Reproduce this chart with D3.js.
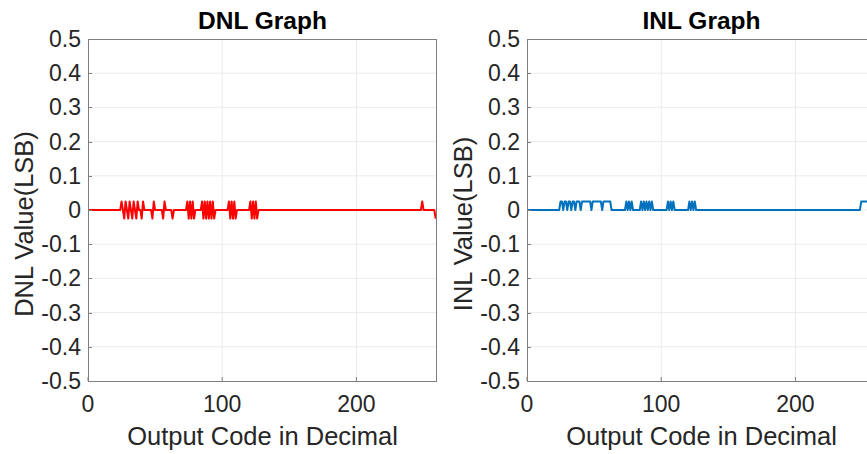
<!DOCTYPE html>
<html>
<head>
<meta charset="utf-8">
<script src="https://cdn.jsdelivr.net/npm/d3@7"></script>
<style>
  body { margin: 0; background: #fff; }
  svg { display: block; font-family: "Liberation Sans", Arial, sans-serif; }
</style>
</head>
<body>
<svg id="chart" width="867" height="454"></svg>
<script>
// codes 0..259, values in LSB
var lastCode = 259;

// DNL: codes with non-zero DNL, and their values
var dnlCodes  = [25, 27, 28, 30, 31, 33, 34, 36, 37, 40, 41, 48, 49, 56, 57, 63,
                 74, 75, 76, 77, 78, 79,
                 85, 86, 87, 88, 89, 90, 91, 92, 93, 94,
                 105, 106, 107, 108, 109, 110,
                 121, 122, 123, 124, 125, 126,
                 249, 259];
var dnlValues = [0.025, -0.025, 0.025, -0.025, 0.025, -0.025, 0.025, -0.025, 0.025, -0.025, 0.025, -0.025, 0.025, -0.025, 0.025, -0.025,
                 0.025, -0.025, 0.025, -0.025, 0.025, -0.025,
                 0.025, -0.025, 0.025, -0.025, 0.025, -0.025, 0.025, -0.025, 0.025, -0.025,
                 0.025, -0.025, 0.025, -0.025, 0.025, -0.025,
                 0.025, -0.025, 0.025, -0.025, 0.025, -0.025,
                 0.025, -0.025];

// INL: code ranges where INL sits at +0.025 LSB (zero elsewhere)
var inlHighStart = [25, 28, 31, 34, 37, 41, 49, 57, 74, 76, 78, 85, 87, 89, 91, 93, 105, 107, 109, 121, 123, 125, 249];
var inlHighEnd   = [26, 29, 32, 35, 39, 47, 55, 62, 74, 76, 78, 85, 87, 89, 91, 93, 105, 107, 109, 121, 123, 125, 258];
var inlLevel = 0.025;

var xTicks = [0, 100, 200];
var yTicks = [-0.5, -0.4, -0.3, -0.2, -0.1, 0, 0.1, 0.2, 0.3, 0.4, 0.5];

// build full series
var dnl = d3.range(0, lastCode + 1).map(function(c){
    var i = dnlCodes.indexOf(c);
    return {code: c, v: i >= 0 ? dnlValues[i] : 0};
});
var inl = d3.range(0, lastCode + 1).map(function(c){
    var hit = inlHighStart.some(function(s, i){ return c >= s && c <= inlHighEnd[i]; });
    return {code: c, v: hit ? inlLevel : 0};
});

var svg = d3.select("#chart");
svg.append("rect").attr("width", 867).attr("height", 454).attr("fill", "#fff");

function drawPanel(left, data, color, title, ylabel){
    var top = 39, bottom = 381, width = 349;
    var x = d3.scaleLinear().domain([0, 260]).range([left, left + width]);
    var y = d3.scaleLinear().domain([-0.5, 0.5]).range([bottom, top]);
    var g = svg.append("g");

    // grid
    g.selectAll(".gx").data(xTicks.slice(1)).enter().append("line")
        .attr("x1", d => x(d)).attr("x2", d => x(d))
        .attr("y1", top).attr("y2", bottom)
        .attr("stroke", "#ebebeb").attr("stroke-width", 1);
    g.selectAll(".gy").data(yTicks.slice(1, -1)).enter().append("line")
        .attr("x1", left).attr("x2", left + width)
        .attr("y1", d => y(d)).attr("y2", d => y(d))
        .attr("stroke", "#ebebeb").attr("stroke-width", 1);

    // data
    var line = d3.line().x(d => x(d.code)).y(d => y(d.v));
    g.append("path").datum(data)
        .attr("d", line)
        .attr("fill", "none")
        .attr("stroke", color)
        .attr("stroke-width", 2)
        .attr("stroke-linejoin", "round");

    // box
    g.append("rect")
        .attr("x", left + 0.5).attr("y", top + 0.5)
        .attr("width", width - 1).attr("height", bottom - top)
        .attr("fill", "none").attr("stroke", "#7f7f7f").attr("stroke-width", 1);

    // inward ticks
    g.selectAll(".ty").data(yTicks).enter().append("line")
        .attr("x1", left).attr("x2", left + 4)
        .attr("y1", d => Math.round(y(d)) + 0.5).attr("y2", d => Math.round(y(d)) + 0.5)
        .attr("stroke", "#7f7f7f");
    g.selectAll(".tx").data(xTicks).enter().append("line")
        .attr("x1", d => x(d)).attr("x2", d => x(d))
        .attr("y1", bottom).attr("y2", bottom - 4)
        .attr("stroke", "#7f7f7f");

    // tick labels (plain hyphen minus, as MATLAB draws it)
    var fmt = d3.format(".1f");
    g.selectAll(".ly").data(yTicks).enter().append("text")
        .attr("x", left - 7).attr("y", d => y(d))
        .attr("dy", "0.35em")
        .attr("text-anchor", "end")
        .attr("font-size", 23).attr("fill", "#262626")
        .text(d => d === 0 ? "0" : fmt(d).replace("\u2212", "-"));
    g.selectAll(".lx").data(xTicks).enter().append("text")
        .attr("x", d => x(d)).attr("y", 412)
        .attr("text-anchor", "middle")
        .attr("font-size", 23).attr("fill", "#262626")
        .text(d => d);

    // labels
    g.append("text")
        .attr("x", left + width / 2).attr("y", 445)
        .attr("text-anchor", "middle")
        .attr("font-size", 25.5).attr("fill", "#262626")
        .text("Output Code in Decimal");
    g.append("text")
        .attr("transform", "translate(" + (left - 55) + "," + ((top + bottom) / 2 + 14) + ") rotate(-90)")
        .attr("text-anchor", "middle")
        .attr("font-size", 25.5).attr("fill", "#262626")
        .text(ylabel);
    g.append("text")
        .attr("x", left + width / 2).attr("y", 29)
        .attr("text-anchor", "middle")
        .attr("font-size", 24.5).attr("font-weight", "bold").attr("fill", "#000")
        .text(title);
}

drawPanel(88, dnl, "#ff0000", "DNL Graph", "DNL Value(LSB)");
drawPanel(527, inl, "#0072bd", "INL Graph", "INL Value(LSB)");
</script>
</body>
</html>
